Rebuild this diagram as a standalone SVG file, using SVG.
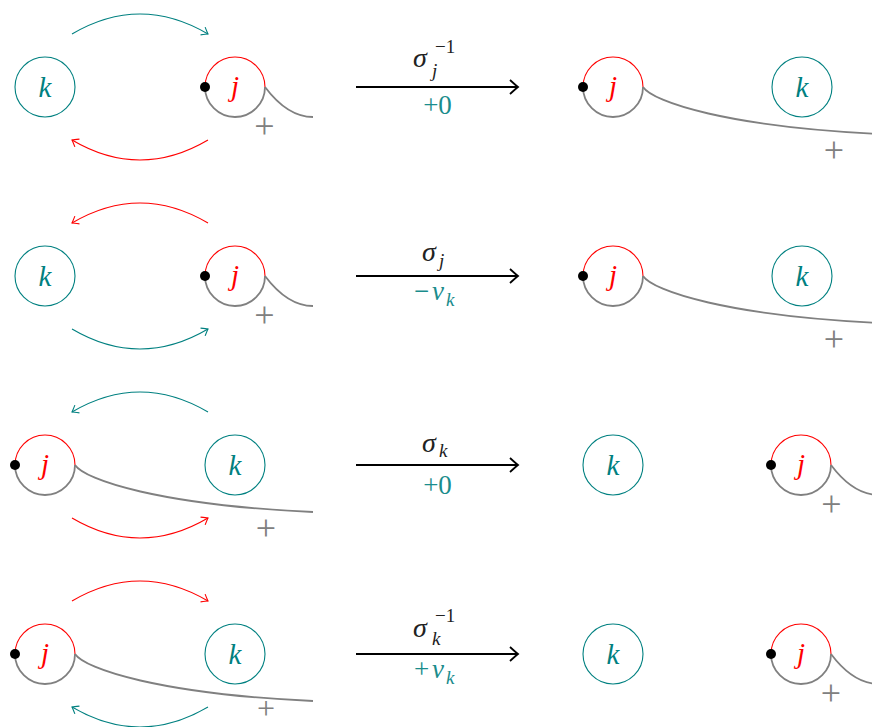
<svg xmlns="http://www.w3.org/2000/svg" width="872" height="727" viewBox="0 0 872 727" font-family="'Liberation Serif', 'Times New Roman', serif">
<style>
.bg{fill:#fff}
.kc{fill:none;stroke:#008080;stroke-width:1.1}
.rt{fill:none;stroke:#ff0000;stroke-width:1.1}
.gb{fill:none;stroke:#808080;stroke-width:1.8}
.dot{fill:#000}
text{font-family:"Liberation Serif","Times New Roman",serif}
.lk{font-style:italic;font-size:29px;fill:#008080;text-anchor:middle}
.lj{font-style:italic;font-size:29px;fill:#ff0000;text-anchor:middle}
.pl{font-size:36px;fill:#808080;text-anchor:middle}
.ta{fill:none;stroke:#008080;stroke-width:1.1;marker-end:url(#mt)}
.ra{fill:none;stroke:#ff0000;stroke-width:1.1;marker-end:url(#mr)}
.ba{fill:none;stroke:#000;stroke-width:1.8;marker-end:url(#mb)}
.sg{font-style:italic;font-size:28px;fill:#222}
.sb{font-style:italic;font-size:19px;fill:#222}
.sp{font-size:19px;fill:#222}
.cv{font-size:27px;fill:#1a8c8c}
.cvi{font-style:italic;font-size:27px;fill:#1a8c8c}
.cvs{font-style:italic;font-size:19px;fill:#1a8c8c}
</style>
<defs>
<marker id="mt" markerUnits="userSpaceOnUse" viewBox="-8 -6 10 12" markerWidth="10" markerHeight="12" refX="0" refY="0" orient="auto">
<path d="M-6,-4.5 Q-1.5,-1 0,0 Q-1.5,1 -6,4.5" fill="none" stroke="#008080" stroke-width="1.1"/>
</marker>
<marker id="mr" markerUnits="userSpaceOnUse" viewBox="-8 -6 10 12" markerWidth="10" markerHeight="12" refX="0" refY="0" orient="auto">
<path d="M-6,-4.5 Q-1.5,-1 0,0 Q-1.5,1 -6,4.5" fill="none" stroke="#ff0000" stroke-width="1.1"/>
</marker>
<marker id="mb" markerUnits="userSpaceOnUse" viewBox="-10 -9 12 18" markerWidth="12" markerHeight="18" refX="0" refY="0" orient="auto">
<path d="M-8,-7 Q-2,-1.5 0,0 Q-2,1.5 -8,7" fill="none" stroke="#000" stroke-width="1.8"/>
</marker>
</defs>
<rect class="bg" x="0" y="0" width="872" height="727"/>

<!-- Row 1 -->
<g id="r1-left-k"><circle class="kc" cx="45" cy="87" r="30"/><text class="lk" x="45" y="97">k</text></g>
<g id="r1-left-j">
<path class="rt" d="M205,87 A30,30 0 0,1 265,87"/>
<path class="gb" d="M205,87 A30,30 0 0,0 265,87"/>
<path class="gb" d="M265,87 C280,107 295,117 313,117"/>
<circle class="dot" cx="205" cy="87" r="5"/>
<text class="lj" x="235" y="96">j</text>
<text class="pl" x="264.5" y="138">+</text>
</g>
<g id="r1-right-j">
<path class="rt" d="M583,87 A30,30 0 0,1 643,87"/>
<path class="gb" d="M583,87 A30,30 0 0,0 643,87"/>
<path class="gb" d="M643,87 C653,102 728,127 881,134"/>
<circle class="dot" cx="583" cy="87" r="5"/>
<text class="lj" x="613" y="96">j</text>
<text class="pl" x="834" y="162">+</text>
</g>
<g id="r1-right-k"><circle class="kc" cx="802" cy="87" r="30"/><text class="lk" x="802" y="97">k</text></g>
<g id="r1-label">
<text class="sg" x="413" y="67">σ</text>
<text class="sb" x="432" y="77">j</text>
<text class="sp" x="435" y="53">−1</text>
<text class="cv" x="437.5" y="114" text-anchor="middle">+0</text>
</g>

<!-- Row 2 -->
<g id="r2-left-k"><circle class="kc" cx="45" cy="276" r="30"/><text class="lk" x="45" y="286">k</text></g>
<g id="r2-left-j">
<path class="rt" d="M205,276 A30,30 0 0,1 265,276"/>
<path class="gb" d="M205,276 A30,30 0 0,0 265,276"/>
<path class="gb" d="M265,276 C280,296 295,306 313,306"/>
<circle class="dot" cx="205" cy="276" r="5"/>
<text class="lj" x="235" y="285">j</text>
<text class="pl" x="264.5" y="327">+</text>
</g>
<g id="r2-right-j">
<path class="rt" d="M583,276 A30,30 0 0,1 643,276"/>
<path class="gb" d="M583,276 A30,30 0 0,0 643,276"/>
<path class="gb" d="M643,276 C653,291 728,316 881,323"/>
<circle class="dot" cx="583" cy="276" r="5"/>
<text class="lj" x="613" y="285">j</text>
<text class="pl" x="834" y="351">+</text>
</g>
<g id="r2-right-k"><circle class="kc" cx="802" cy="276" r="30"/><text class="lk" x="802" y="286">k</text></g>
<g id="r2-label">
<text class="sg" x="422" y="261">σ</text>
<text class="sb" x="439" y="267">j</text>
<text class="cv" x="414" y="300">−</text>
<text class="cvi" x="432" y="300">v</text>
<text class="cvs" x="446" y="306">k</text>
</g>

<!-- Row 3 -->
<g id="r3-left-j">
<path class="rt" d="M15,465 A30,30 0 0,1 75,465"/>
<path class="gb" d="M15,465 A30,30 0 0,0 75,465"/>
<path class="gb" d="M75,465 C85,480 160,505 313,512"/>
<circle class="dot" cx="15" cy="465" r="5"/>
<text class="lj" x="45" y="474">j</text>
<text class="pl" x="266" y="540">+</text>
</g>
<g id="r3-left-k"><circle class="kc" cx="235" cy="465" r="30"/><text class="lk" x="235" y="475">k</text></g>
<g id="r3-right-k"><circle class="kc" cx="613" cy="465" r="30"/><text class="lk" x="613" y="475">k</text></g>
<g id="r3-right-j">
<path class="rt" d="M771,465 A30,30 0 0,1 831,465"/>
<path class="gb" d="M771,465 A30,30 0 0,0 831,465"/>
<path class="gb" d="M831,465 C846,485 861,495 879,495"/>
<circle class="dot" cx="771" cy="465" r="5"/>
<text class="lj" x="801" y="474">j</text>
<text class="pl" x="831.5" y="516">+</text>
</g>
<g id="r3-label">
<text class="sg" x="422" y="452">σ</text>
<text class="sb" x="439" y="457">k</text>
<text class="cv" x="437.5" y="494" text-anchor="middle">+0</text>
</g>

<!-- Row 4 -->
<g id="r4-left-j">
<path class="rt" d="M15,654 A30,30 0 0,1 75,654"/>
<path class="gb" d="M15,654 A30,30 0 0,0 75,654"/>
<path class="gb" d="M75,654 C85,669 160,694 313,701"/>
<circle class="dot" cx="15" cy="654" r="5"/>
<text class="lj" x="45" y="663">j</text>
<text class="pl" x="266" y="719" style="font-size:32px">+</text>
</g>
<g id="r4-left-k"><circle class="kc" cx="235" cy="654" r="30"/><text class="lk" x="235" y="664">k</text></g>
<g id="r4-right-k"><circle class="kc" cx="613" cy="654" r="30"/><text class="lk" x="613" y="664">k</text></g>
<g id="r4-right-j">
<path class="rt" d="M771,654 A30,30 0 0,1 831,654"/>
<path class="gb" d="M771,654 A30,30 0 0,0 831,654"/>
<path class="gb" d="M831,654 C846,674 861,684 879,684"/>
<circle class="dot" cx="771" cy="654" r="5"/>
<text class="lj" x="801" y="663">j</text>
<text class="pl" x="831" y="705">+</text>
</g>
<g id="r4-label">
<text class="sg" x="413" y="637">σ</text>
<text class="sb" x="432" y="645">k</text>
<text class="sp" x="435" y="622">−1</text>
<text class="cv" x="414" y="678">+</text>
<text class="cvi" x="432" y="678">v</text>
<text class="cvs" x="446" y="684">k</text>
</g>

<g id="connectors">
<path class="ta" d="M72,34 Q140,-6 208,34"/>
<path class="ra" d="M208,140 Q140,180 72,140"/>
<path class="ba" d="M356,87 L518,87"/>
<path class="ra" d="M208,223 Q140,183 72,223"/>
<path class="ta" d="M72,329 Q140,369 208,329"/>
<path class="ba" d="M356,276 L518,276"/>
<path class="ta" d="M208,412 Q140,372 72,412"/>
<path class="ra" d="M72,518 Q140,558 208,518"/>
<path class="ba" d="M356,465 L518,465"/>
<path class="ra" d="M72,601 Q140,561 208,601"/>
<path class="ta" d="M208,707 Q140,747 72,707"/>
<path class="ba" d="M356,654 L518,654"/>
</g>
</svg>
